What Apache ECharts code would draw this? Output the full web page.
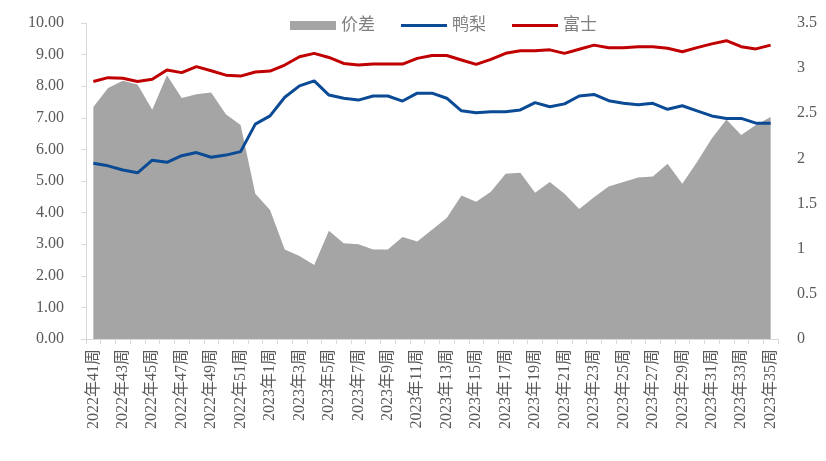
<!DOCTYPE html>
<html>
<head>
<meta charset="utf-8">
<script src="https://cdn.jsdelivr.net/npm/echarts@6/dist/echarts.min.js"></script>
<style>
  html, body { margin: 0; padding: 0; background: #fff; }
  #chartmain { width: 826px; height: 461px; }
</style>
</head>
<body>
<div id="chartmain"></div>
<script>
// 周次
var weeks = [];
for (var w = 41; w <= 52; w++) weeks.push('2022年' + w + '周');
for (var w2 = 1; w2 <= 35; w2++) weeks.push('2023年' + w2 + '周');

// 价差 (右轴)
var spread = [2.57, 2.78, 2.86, 2.82, 2.54, 2.92, 2.67, 2.71, 2.73, 2.49, 2.37, 1.61,
  1.43, 0.99, 0.92, 0.82, 1.20, 1.06, 1.05, 0.99, 0.99, 1.13, 1.08, 1.21, 1.34, 1.59,
  1.52, 1.63, 1.83, 1.84, 1.62, 1.74, 1.61, 1.44, 1.57, 1.69, 1.74, 1.79, 1.80, 1.94,
  1.72, 1.96, 2.22, 2.43, 2.26, 2.37, 2.46];

// 鸭梨 (左轴)
var yali = [5.56, 5.48, 5.35, 5.26, 5.66, 5.59, 5.80, 5.90, 5.75, 5.82, 5.93, 6.80,
  7.06, 7.65, 8.01, 8.17, 7.72, 7.62, 7.56, 7.69, 7.69, 7.53, 7.78, 7.78, 7.62, 7.22,
  7.16, 7.19, 7.19, 7.25, 7.48, 7.35, 7.44, 7.69, 7.74, 7.54, 7.46, 7.41, 7.46, 7.27,
  7.38, 7.22, 7.06, 6.98, 6.98, 6.83, 6.83];

// 富士 (左轴)
var fuji = [8.15, 8.27, 8.25, 8.15, 8.22, 8.51, 8.43, 8.62, 8.49, 8.35, 8.32, 8.45,
  8.48, 8.67, 8.93, 9.04, 8.91, 8.72, 8.67, 8.70, 8.70, 8.70, 8.88, 8.97, 8.97, 8.83,
  8.69, 8.85, 9.04, 9.12, 9.12, 9.15, 9.04, 9.17, 9.30, 9.22, 9.22, 9.25, 9.25, 9.20,
  9.09, 9.22, 9.34, 9.44, 9.25, 9.18, 9.30];

var fontNum = '"Liberation Serif", "Noto Sans CJK SC", serif';
var labelColor = '#595959';
// 图例中的细线图标 (外框 48x9, 中间 3px 粗线)
var lineIcon = 'path://M0,0L0.01,0L0.01,0.01ZM0,3L48,3L48,6L0,6ZM47.99,9L48,9L48,8.99Z';

var option = {
  animation: false,
  legend: {
    top: 12,
    left: 285,
    itemWidth: 46,
    itemHeight: 9,
    itemGap: 26,
    textStyle: { color: '#7f7f7f', fontSize: 17, fontFamily: fontNum },
    data: [
      { name: '价差', icon: 'rect' },
      { name: '鸭梨', icon: lineIcon },
      { name: '富士', icon: lineIcon }
    ]
  },
  grid: { left: 86, right: 48, top: 23, bottom: 122 },
  xAxis: [{
    type: 'category',
    data: weeks,
    boundaryGap: true,
    axisLine: { lineStyle: { color: '#d9d9d9' } },
    axisTick: { show: true, interval: 0, length: 5, lineStyle: { color: '#d9d9d9' } },
    axisLabel: {
      interval: 1,
      rotate: 90,
      color: labelColor,
      fontSize: 16,
      fontFamily: fontNum,
      margin: 10
    }
  }],
  yAxis: [{
    type: 'value',
    min: 0,
    max: 10,
    interval: 1,
    axisLine: { show: true, lineStyle: { color: '#d9d9d9' } },
    axisTick: { show: true, length: 5, lineStyle: { color: '#d9d9d9' } },
    splitLine: { show: false },
    axisLabel: {
      color: labelColor,
      fontSize: 16,
      fontFamily: fontNum,
      margin: 22,
      formatter: function (v) { return v.toFixed(2); }
    }
  }, {
    type: 'value',
    min: 0,
    max: 3.5,
    interval: 0.5,
    axisLine: { show: false },
    axisTick: { show: false },
    splitLine: { show: false },
    axisLabel: {
      color: labelColor,
      fontSize: 16,
      fontFamily: fontNum,
      margin: 19
    }
  }],
  series: [{
    name: '价差',
    type: 'line',
    yAxisIndex: 1,
    data: spread,
    symbol: 'none',
    color: '#a5a5a5',
    lineStyle: { width: 0 },
    areaStyle: { color: '#a5a5a5', opacity: 1 },
    z: 1
  }, {
    name: '鸭梨',
    type: 'line',
    data: yali,
    symbol: 'none',
    color: '#0b4a94',
    lineStyle: { width: 3, color: '#0b4a94' },
    z: 3
  }, {
    name: '富士',
    type: 'line',
    data: fuji,
    symbol: 'none',
    color: '#c00000',
    lineStyle: { width: 3, color: '#c00000' },
    z: 3
  }]
};

var myChart = echarts.init(document.getElementById('chartmain'));
myChart.setOption(option);
</script>
</body>
</html>
